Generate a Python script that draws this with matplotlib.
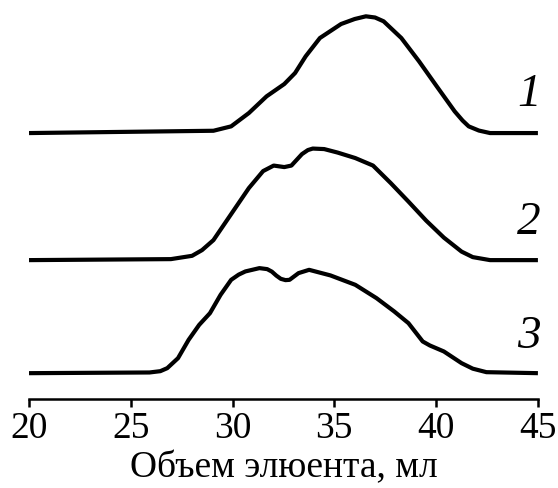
import matplotlib.pyplot as plt

plt.rcParams["font.family"] = ["Liberation Serif", "DejaVu Serif"]

# curve 1
x1 = [20, 29.06, 29.93, 30.80, 31.67, 32.54, 33.07, 33.59, 34.29, 35.33, 36.0, 36.55,
      37.0, 37.42, 38.29, 39.16, 40.03, 40.91, 41.30, 41.60, 42.1, 42.65, 45]
y1 = [0, 2.3, 6.7, 20, 36.7, 49, 60, 76.7, 95, 109, 114, 116.7,
      115.5, 111.7, 95, 71.7, 46.7, 21.7, 12.5, 6.7, 2.5, 0, 0]

# curve 2
x2 = [20, 26.97, 28.01, 28.5, 29.06, 29.93, 30.80, 31.50, 32.02, 32.54, 32.89, 33.41,
      33.7, 33.94, 34.5, 35.16, 36.03, 36.90, 37.77, 38.64, 39.51, 40.38, 41.25,
      41.8, 42.65, 45]
y2 = [0, 1, 4.3, 10, 20, 46, 72, 89, 94.5, 93, 94.5, 106,
      110, 111.5, 111, 107.5, 102, 94.5, 77, 58.5, 39.5, 22.5, 8.5,
      3, 0, 0]

# curve 3
x3 = [20, 25.92, 26.45, 26.79, 27.32, 27.84, 28.36, 28.89, 29.41, 29.93, 30.3, 30.63, 31.32,
      31.7, 31.93, 32.15, 32.37, 32.6, 32.80, 33.24, 33.76, 34.81, 36.03, 37.07, 37.94, 38.64,
      39.34, 39.69, 40.38, 41.25, 41.8, 42.47, 45]
y3 = [0, 0.7, 2, 5, 15, 33.3, 48.3, 60, 78.3, 93.3, 98.5, 101.7, 105,
      104, 101.5, 97.5, 94.3, 93, 93.3, 100, 103.3, 97.7, 88.3, 75, 61.7, 50,
      31.7, 27.7, 21.7, 10, 4.5, 1, 0]

offsets = [266, 139, 26]
labels = ["1", "2", "3"]
label_y = [304, 176, 62]

fig = plt.figure(figsize=(5.58, 4.88), dpi=100)
ax = fig.add_axes([0.052, 0.182, 0.912, 0.818])

for xs, ys, off in zip([x1, x2, x3], [y1, y2, y3], offsets):
    ax.plot(xs, [v + off for v in ys], color="black", linewidth=3.0,
            solid_joinstyle="round", solid_capstyle="butt")

for lab, ly in zip(labels, label_y):
    ax.text(45.15, ly, lab, fontsize=34, fontstyle="italic",
            ha="right", va="center")

ax.set_xlim(20, 45)
ax.set_ylim(0, 399)
ax.set_xticks(range(20, 46, 5))
ax.set_yticks([])
for s in ["top", "left", "right"]:
    ax.spines[s].set_visible(False)
ax.spines["bottom"].set_linewidth(1.8)
ax.tick_params(axis="x", direction="out", length=6, width=1.8,
               labelsize=27, pad=3)
ax.set_xlabel("Объем элюента, мл", fontsize=27, labelpad=3)

fig.savefig("out.png", dpi=100)
